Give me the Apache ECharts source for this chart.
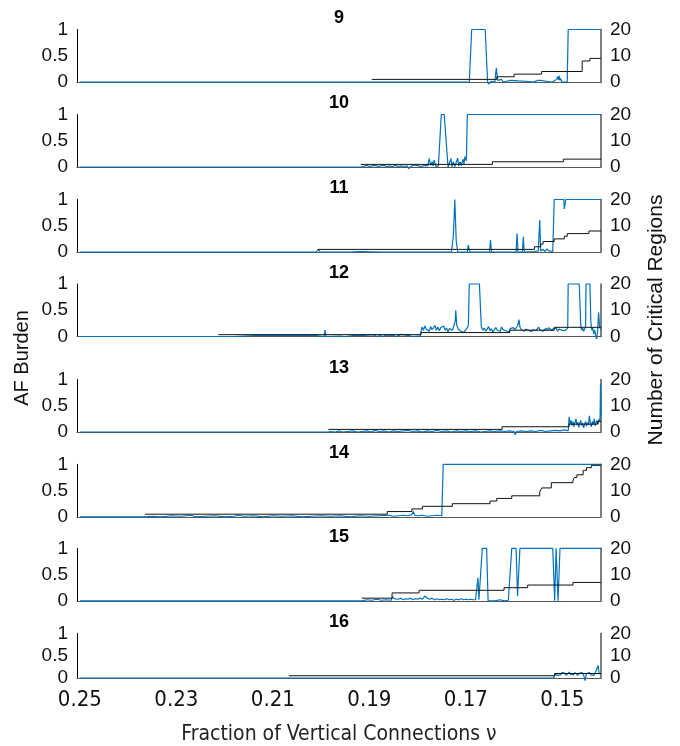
<!DOCTYPE html>
<html>
<head>
<meta charset="utf-8">
<script src="https://cdn.jsdelivr.net/npm/echarts@6/dist/echarts.min.js"></script>
<style>
html, body { margin: 0; padding: 0; background: #fff; }
#main { width: 680px; height: 746px; }
</style>
</head>
<body>
<div id="main"></div>
<script>
// panel titles and bottom tick labels
var panelNames = ['9', '10', '11', '12', '13', '14', '15', '16'];
var xTicks = [0.25, 0.23, 0.21, 0.19, 0.17, 0.15];

// AF burden (left axis) as [nu, value]
var af9 = [[0.25,0],[0.1693,0],[0.1688,1],[0.1660,1],[0.1655,0],[0.1653,-0.04],[0.1648,0.01],[0.1640,0],[0.1637,0.27],[0.1634,0.03],[0.1630,0],[0.1626,0.05],[0.1623,0],[0.1607,0.03],[0.1604,0],[0.1590,0.02],[0.1586,0],[0.1570,0.01],[0.1560,0],[0.1551,0.03],[0.1548,0],[0.1546,0.03],[0.1543,0],[0.1530,0.01],[0.1520,0],[0.1512,0.05],[0.1510,0.1],[0.1508,0.04],[0.1507,0.12],[0.1505,0.03],[0.1504,0.07],[0.1501,0],[0.1499,0.03],[0.1495,0],[0.1490,0],[0.1488,1],[0.142,1]];
var af10 = [[0.25,0],[0.1920,0],[0.1918,0.02],[0.1912,0.01],[0.1906,0.03],[0.1900,0.01],[0.1894,0.02],[0.1888,0.03],[0.1882,0.01],[0.1876,0.02],[0.1870,0.03],[0.1864,0.01],[0.1858,0.02],[0.1852,0.01],[0.1846,0.03],[0.1840,0.01],[0.1834,0.02],[0.1832,0.05],[0.1828,0.01],[0.1822,0.02],[0.1818,-0.03],[0.1814,0.01],[0.1808,0.04],[0.1804,0.01],[0.1798,0.02],[0.1792,0.01],[0.1786,0.03],[0.1782,0.06],[0.1779,0.02],[0.1776,0.16],[0.1773,0.03],[0.1770,0.1],[0.1768,0.02],[0.1766,0.13],[0.1762,0.01],[0.1757,0.02],[0.1753,0],[0.1751,1],[0.1745,1],[0.1737,0],[0.1733,0.03],[0.1731,0.16],[0.1729,0.01],[0.1726,0.1],[0.1723,0.01],[0.1720,0.04],[0.1717,0.17],[0.1715,0.02],[0.1712,0.1],[0.1709,0.03],[0.1706,0.15],[0.1704,0.06],[0.1702,0.2],[0.1699,0.12],[0.1697,1],[0.142,1]];
var af11 = [[0.25,0],[0.2010,0],[0.2006,0.05],[0.2002,0],[0.1945,0],[0.1943,0.02],[0.1940,0],[0.1920,0.01],[0.1917,0],[0.1870,0],[0.1866,0.01],[0.1862,0],[0.1730,0],[0.1726,0.3],[0.1723,1],[0.1720,0.2],[0.1717,0],[0.1697,0],[0.1695,0.13],[0.1692,0],[0.1686,0],[0.1685,0.03],[0.1683,0],[0.1651,0],[0.1649,0.23],[0.1647,0],[0.1614,0],[0.1613,0.02],[0.1611,0],[0.1596,0],[0.1594,0.35],[0.1592,0],[0.1583,0],[0.1581,0.29],[0.1579,0],[0.1560,0.01],[0.1550,0.02],[0.1548,0],[0.1547,0.61],[0.1545,0.02],[0.1540,0.05],[0.1536,0.01],[0.1532,0.06],[0.1528,0.02],[0.1524,0.04],[0.1520,0.01],[0.1517,1],[0.1497,1],[0.1496,0.82],[0.1494,0.85],[0.1493,1],[0.142,1]];
var af12 = [[0.25,0],[0.2213,0],[0.2180,0],[0.2128,0.02],[0.2126,0],[0.2090,0.02],[0.2088,0],[0.2014,0.02],[0.2012,0],[0.1994,0],[0.1992,0.12],[0.1990,0],[0.1960,0.01],[0.1950,0],[0.1930,0.02],[0.1928,0],[0.1910,0.02],[0.1906,0],[0.1900,0.03],[0.1896,0.01],[0.1890,0.03],[0.1885,0],[0.1878,0.02],[0.1872,0],[0.1866,0.03],[0.1862,0],[0.1850,0.02],[0.1845,0],[0.1834,0.04],[0.1830,0.01],[0.1820,0.02],[0.1810,0],[0.1800,0.01],[0.1795,0],
  [0.1791,0.18],[0.1788,0.12],[0.1785,0.2],[0.1782,0.14],[0.1779,0.17],[0.1776,0.1],[0.1773,0.19],[0.1770,0.13],[0.1767,0.16],[0.1764,0.21],[0.1761,0.12],[0.1758,0.18],[0.1755,0.11],[0.1752,0.17],[0.1749,0.14],[0.1746,0.2],[0.1743,0.12],[0.1740,0.16],[0.1737,0.09],[0.1734,0.15],[0.1731,0.18],[0.1728,0.12],[0.1725,0.2],[0.1722,0.3],[0.1721,0.5],[0.1719,0.22],[0.1716,0.14],[0.1713,0.17],[0.1710,0.1],[0.1707,0.13],[0.1704,0.08],[0.1701,0.12],[0.1698,0.16],[0.1695,0.2],[0.1693,1],[0.1672,1],[0.1668,0.18],
  [0.1665,0.12],[0.1662,0.16],[0.1659,0.1],[0.1656,0.14],[0.1653,0.19],[0.1650,0.11],[0.1647,0.15],[0.1644,0.08],[0.1641,0.13],[0.1638,0.17],[0.1635,0.12],[0.1632,0.15],[0.1629,0.1],[0.1626,0.18],[0.1623,0.13],[0.1620,0.16],[0.1617,0.11],[0.1614,0.14],[0.1611,0.09],[0.1608,0.15],[0.1605,0.12],[0.1602,0.17],[0.1599,0.13],[0.1596,0.16],[0.1593,0.2],[0.1590,0.32],[0.1588,0.18],[0.1585,0.13],[0.1582,0.15],[0.1579,0.1],[0.1576,0.14],[0.1573,0.17],[0.1570,0.12],[0.1567,0.15],[0.1564,0.09],[0.1561,0.13],[0.1558,0.16],[0.1555,0.11],[0.1552,0.14],[0.1549,0.18],[0.1546,0.12],[0.1543,0.15],[0.1540,0.1],[0.1537,0.13],[0.1534,0.16],[0.1531,0.12],[0.1528,0.17],[0.1525,0.14],[0.1522,0.11],[0.1519,0.15],[0.1516,0.12],[0.1513,0.16],[0.1510,0.1],[0.1507,0.14],[0.1504,0.17],[0.1501,0.12],[0.1498,0.15],[0.1495,0.11],[0.1492,0.14],[0.1489,0.16],
  [0.1488,1],[0.1465,1],[0.1462,0.2],[0.1460,0.12],[0.1458,0.16],[0.1456,0.1],[0.1454,0.14],[0.1452,0.18],[0.1451,1],[0.1443,1],[0.1441,0.27],[0.1439,0.12],[0.1437,0.16],[0.1435,0.05],[0.1433,0.12],[0.1431,0.02],[0.1429,-0.05],[0.1427,0.1],[0.1425,0.46],[0.1423,0.2],[0.1421,0.14],[0.142,0.15]];
var af13 = [[0.25,0],[0.1985,0],[0.1980,0.01],[0.1970,0],[0.1962,0.02],[0.1955,0],[0.1945,0.01],[0.1935,0.02],[0.1925,0],[0.1915,0.01],[0.1905,0.02],[0.1897,0],[0.1888,0.03],[0.1880,0.01],[0.1870,0.02],[0.1860,0],[0.1850,0.02],[0.1840,0.01],[0.1830,0.02],[0.1820,0.03],[0.1810,0.01],[0.1800,0.02],[0.1790,0],[0.1780,0.02],[0.1770,0.01],[0.1760,0.03],[0.1750,0.01],[0.1740,0.02],[0.1730,0],[0.1720,0.02],[0.1710,0.01],[0.1700,0.02],[0.1690,0.01],[0.1680,0.02],[0.1670,0],[0.1660,0.01],[0.1650,0.02],[0.1640,0.01],[0.1630,0.02],[0.1620,0.01],[0.1610,0.02],[0.1600,0.01],[0.1598,-0.05],[0.1595,0.01],[0.1585,0.02],[0.1575,0.01],[0.1565,0.02],[0.1555,0.01],[0.1545,0.03],[0.1535,0.01],[0.1525,0.02],[0.1515,0.03],[0.1505,0.02],[0.1495,0.04],[0.1488,0.02],
  [0.1486,0.29],[0.1484,0.15],[0.1482,0.22],[0.1480,0.12],[0.1478,0.2],[0.1476,0.1],[0.1474,0.18],[0.1472,0.25],[0.1470,0.13],[0.1468,0.19],[0.1466,0.09],[0.1464,0.16],[0.1462,0.22],[0.1460,0.12],[0.1458,0.17],[0.1456,0.08],[0.1454,0.15],[0.1452,0.2],[0.1450,0.11],[0.1448,0.18],[0.1446,0.14],[0.1444,0.31],[0.1442,0.16],[0.1440,0.1],[0.1438,0.2],[0.1436,0.14],[0.1434,0.25],[0.1432,0.12],[0.1430,0.18],[0.1428,0.22],[0.1426,0.15],[0.1424,0.25],[0.1422,0.2],[0.1421,0.92],[0.142,0.3]];
var af14 = [[0.25,0],[0.2365,0],[0.2350,0.01],[0.2330,0],[0.2310,0.02],[0.2290,0.01],[0.2270,0.03],[0.2260,0],[0.2240,0.01],[0.2220,0.02],[0.2200,0],[0.2180,0.01],[0.2172,0.03],[0.2160,0.01],[0.2140,0.02],[0.2120,0],[0.2100,0.02],[0.2080,0.01],[0.2060,0.02],[0.2040,0],[0.2020,0.01],[0.2000,0.02],[0.1980,0.01],[0.1960,0.02],[0.1940,0],[0.1920,0.02],[0.1900,0.01],[0.1880,0.02],[0.1860,0.03],[0.1850,0.01],[0.1840,0.02],[0.1830,0.03],[0.1820,0.02],[0.1812,0.04],[0.1809,0.1],[0.1806,0.03],[0.1800,0.02],[0.1790,0.03],[0.1780,0.01],[0.1770,0.02],[0.1760,0.03],[0.1750,0.02],[0.1747,1],[0.142,1]];
var af15 = [[0.25,0],[0.1916,0],[0.1912,0.01],[0.1905,0.02],[0.1895,0.01],[0.1885,0.03],[0.1875,0.01],[0.1865,0.02],[0.1855,0.01],[0.1852,0.08],[0.1849,0.04],[0.1845,0.06],[0.1840,0.03],[0.1835,0.05],[0.1830,0.02],[0.1825,0.04],[0.1820,0.03],[0.1815,0.05],[0.1810,0.02],[0.1805,0.04],[0.1800,0.03],[0.1795,0.05],[0.1790,0.03],[0.1785,0.09],[0.1780,0.05],[0.1775,0.03],[0.1770,0.05],[0.1765,0.02],[0.1760,0.04],[0.1755,0.02],[0.1750,0.03],[0.1745,0.02],[0.1740,0.04],[0.1735,0.02],[0.1730,0.03],[0.1725,0.01],[0.1720,0.03],[0.1715,0.02],[0.1710,0.04],[0.1705,0.02],[0.1700,0.03],[0.1695,0.02],[0.1690,0.03],[0.1685,0.02],[0.1680,0.02],[0.1677,0.03],[0.1675,0.44],[0.1673,0.02],[0.1670,0],[0.1666,1],[0.1657,1],[0.1654,0],[0.1650,0.02],[0.1640,0],[0.1630,0.02],[0.1620,0],[0.1612,0.01],[0.1609,0],[0.1605,1],[0.1596,1],[0.1593,0.09],[0.1588,1],[0.1520,1],[0.1516,0],[0.1513,1],[0.1511,1],[0.1509,0],[0.1505,1],[0.142,1]];
var af16 = [[0.25,0],[0.1518,0],[0.1516,0.08],[0.1513,0.12],[0.1510,0.06],[0.1507,0.1],[0.1504,0.07],[0.1501,0.12],[0.1498,0.08],[0.1495,0.11],[0.1492,0.06],[0.1489,0.1],[0.1486,0.13],[0.1483,0.08],[0.1480,0.11],[0.1477,0.07],[0.1474,0.12],[0.1471,0.09],[0.1468,0.06],[0.1465,0.11],[0.1462,0.08],[0.1459,0.12],[0.1456,0.07],[0.1453,-0.06],[0.1450,0.1],[0.1447,0.08],[0.1444,0.12],[0.1441,0.07],[0.1438,0.1],[0.1435,0.06],[0.1432,0.11],[0.1429,0.08],[0.1426,0.28],[0.1424,0.1],[0.1422,0.12],[0.142,0.09]];

// number of critical regions (right axis), [nu where level starts, level]
var regions9 = [[0.1895,1],[0.1636,2],[0.1600,3],[0.1543,4],[0.1459,8],[0.1443,9],[0.142,9]];
var regions10 = [[0.1918,1],[0.1645,2],[0.1498,3],[0.142,3]];
var regions11 = [[0.2007,1],[0.1558,2],[0.1545,3],[0.1540,4],[0.1517,5],[0.1496,6],[0.1490,7],[0.1445,8],[0.142,8]];
var regions12 = [[0.2213,0.7],[0.1793,1.5],[0.1609,2.4],[0.1517,3.5],[0.142,3.5]];
var regions13 = [[0.1985,1],[0.1625,2],[0.1486,3],[0.1427,4],[0.142,4]];
var regions14 = [[0.2365,1],[0.1863,2],[0.1812,3],[0.1790,4],[0.1728,5],[0.1650,6],[0.1636,7],[0.1605,8],[0.1547,9.5],[0.1543,11],[0.1523,13],[0.1478,14],[0.1475,15],[0.1470,16],[0.1457,17.7],[0.1450,18.7],[0.1440,19.6],[0.142,19.6]];
var regions15 = [[0.1916,1],[0.1853,3],[0.1797,4],[0.1621,5],[0.1572,6],[0.1478,7],[0.142,7]];
var regions16 = [[0.2067,1],[0.1516,2],[0.142,2]];

var afBurden = [af9, af10, af11, af12, af13, af14, af15, af16];
var regionCounts = [regions9, regions10, regions11, regions12, regions13, regions14, regions15, regions16];

var dom = document.getElementById('main');
var chart = echarts.init(dom, null, { renderer: 'canvas' });

var tops = [29.5, 114.5, 199.5, 284, 379.5, 464.3, 548.3, 633.3];
var panelH = 52.5;
var tickFont = 'Liberation Sans';
var xFont = 'DejaVu Sans Condensed, DejaVu Sans';

var grids = [], xAxes = [], yAxes = [], series = [], graphics = [];

for (var i = 0; i < 8; i++) {
    var last = (i === 7);
    grids.push({ left: 77, right: 79, top: tops[i], height: panelH });
    xAxes.push({
        type: 'value',
        gridIndex: i,
        inverse: true,
        min: 0.142,
        max: 0.2506,
        axisLine: { show: true, onZero: false, lineStyle: { color: '#555', width: 1 } },
        axisTick: { show: false },
        splitLine: { show: false },
        axisLabel: {
            show: last,
            customValues: xTicks,
            formatter: function (v) { return v.toFixed(2); },
            margin: 11,
            color: '#111',
            fontSize: 22,
            fontFamily: xFont
        },
        name: last ? 'Fraction of Vertical Connections \u03bd' : '',
        nameLocation: 'middle',
        nameGap: 46,
        nameTextStyle: { color: '#222', fontSize: 21, fontFamily: xFont }
    });
    // left: AF burden
    yAxes.push({
        type: 'value',
        gridIndex: i,
        position: 'left',
        min: 0, max: 1, interval: 0.5,
        axisLine: { show: true, lineStyle: { color: '#000', width: 1 } },
        axisTick: { show: false },
        splitLine: { show: false },
        axisLabel: { margin: 9, color: '#111', fontSize: 19, fontFamily: tickFont }
    });
    // right: number of critical regions
    yAxes.push({
        type: 'value',
        gridIndex: i,
        position: 'right',
        min: 0, max: 20, interval: 10,
        axisLine: { show: true, lineStyle: { color: '#555', width: 1.5 } },
        axisTick: { show: false },
        splitLine: { show: false },
        axisLabel: { margin: 9, color: '#111', fontSize: 19, fontFamily: tickFont }
    });
    series.push({
        type: 'line',
        xAxisIndex: i,
        yAxisIndex: 2 * i,
        data: afBurden[i],
        showSymbol: false,
        clip: false,
        lineStyle: { color: '#0072BD', width: 1.2 },
        z: 2
    });
    series.push({
        type: 'line',
        xAxisIndex: i,
        yAxisIndex: 2 * i + 1,
        data: regionCounts[i],
        step: 'end',
        showSymbol: false,
        lineStyle: { color: '#111', width: 1 },
        z: 3
    });
    graphics.push({
        type: 'text',
        x: 339,
        y: tops[i] - 11,
        style: {
            text: panelNames[i],
            align: 'center',
            verticalAlign: 'middle',
            fill: '#000',
            font: 'bold 18px Liberation Sans'
        }
    });
}

graphics.push({
    type: 'text', x: 22, y: 358, rotation: Math.PI / 2,
    style: { text: 'AF Burden', align: 'center', verticalAlign: 'middle', fill: '#111', font: '20px Liberation Sans' }
});
graphics.push({
    type: 'text', x: 656, y: 320, rotation: Math.PI / 2,
    style: { text: 'Number of Critical Regions', align: 'center', verticalAlign: 'middle', fill: '#111', font: '21px Liberation Sans' }
});

var option = {
    animation: false,
    backgroundColor: '#fff',
    grid: grids,
    xAxis: xAxes,
    yAxis: yAxes,
    series: series,
    graphic: graphics
};

chart.setOption(option);
</script>
</body>
</html>
